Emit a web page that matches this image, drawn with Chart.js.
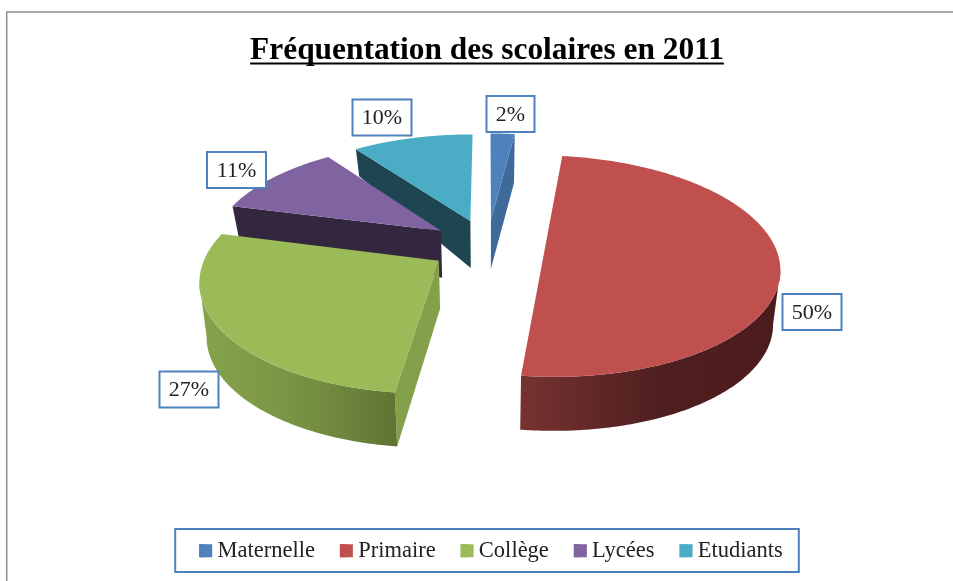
<!DOCTYPE html>
<html lang="fr">
<head>
<meta charset="utf-8">
<title>Fréquentation des scolaires en 2011</title>
<style>
html,body{margin:0;padding:0;background:#fff;overflow:hidden}
canvas{display:block}
</style>
<script src="https://cdn.jsdelivr.net/npm/chart.js@4"></script>
</head>
<body>
<canvas id="c" width="953" height="581"></canvas>
<script>
const categories = ['Maternelle', 'Primaire', 'Collège', 'Lycées', 'Etudiants'];
const shares = [2, 50, 27, 11, 10];
const topColors = ['#4f81bd', '#c0504d', '#9bbb59', '#8064a2', '#4bacc6'];
const titleText = 'Fréquentation des scolaires en 2011';
const serif = '"Liberation Serif", serif';

// Perspective of the pie's top plane, applied to the library's arc angles.
const view = {cx: 487.5, cy: 245.5, A: 230, B: 107, k: 0.155, shrink: 0.025};
const style = {
  order: [0, 4, 3, 2, 1],
  apexDepth: [49, 50, 48, 47, 47],
  rimDepth: [49, 54, 54, 32, 27],
  sideWall: ['#3e6a9a', '#7a2f2e', '#83a04b', '#33273f', '#1e4552'],
  rimStops: {
    1: [[520, '#763231'], [660, '#4f1f1f'], [780, '#4c1c1c']],
    2: [[200, '#85a24c'], [290, '#7a9544'], [345, '#6d853d'], [397, '#607333']]
  },
  labelCenter: [[510.5, 114], [812, 312], [189, 389.5], [236.5, 170], [382, 117.5]]
};

function project(u, v) {
  const w = 1 - view.k * v;
  return {x: view.cx + view.A * u / w, y: view.cy + view.B * v / w};
}
function lower(p, d) {
  return {x: view.cx + (p.x - view.cx) * (1 - view.shrink), y: p.y + d};
}
function poly(ctx, pts, fill) {
  ctx.beginPath();
  pts.forEach((p, i) => i ? ctx.lineTo(p.x, p.y) : ctx.moveTo(p.x, p.y));
  ctx.closePath();
  ctx.fillStyle = fill;
  ctx.fill();
}

const pie3d = {
  id: 'pie3d',
  afterLayout(chart) {
    // the title is centred on the pie, the legend 4px to the right of it
    chart.titleBlock.left -= 4;
    chart.titleBlock.right -= 4;
  },
  beforeDraw(chart) {
    const ctx = chart.ctx;
    ctx.save();
    ctx.strokeStyle = '#8c8c8c';
    ctx.lineWidth = 1.5;
    ctx.beginPath();
    ctx.moveTo(6.7, 600);
    ctx.lineTo(6.7, 12);
    ctx.lineTo(960, 12);
    ctx.stroke();
    ctx.restore();
  },
  beforeDatasetsDraw(chart) {
    const ctx = chart.ctx;
    const arcs = chart.getDatasetMeta(0).data;
    ctx.save();
    style.order.forEach(i => {
      const arc = arcs[i];
      const a0 = arc.startAngle + Math.PI / 2;
      const a1 = arc.endAngle + Math.PI / 2;
      const mid = (a0 + a1) / 2;
      const e = arc.options.offset / 100;
      const u0 = e * Math.sin(mid), v0 = -e * Math.cos(mid);
      const apex = project(u0, v0);
      const steps = Math.max(4, Math.ceil((a1 - a0) / 0.01));
      const rim = [];
      for (let s = 0; s <= steps; s++) {
        const t = a0 + (a1 - a0) * s / steps;
        rim.push(project(u0 + Math.sin(t), v0 - Math.cos(t)));
      }
      const dA = style.apexDepth[i], dR = style.rimDepth[i];
      const centre = project(u0 + 0.6 * Math.sin(mid), v0 - 0.6 * Math.cos(mid));

      // radial walls
      [rim[0], rim[rim.length - 1]].forEach(p => {
        const dx = p.x - apex.x;
        if (Math.abs(dx) < 4) return;
        const lineY = apex.y + (p.y - apex.y) / dx * (centre.x - apex.x);
        if (centre.y < lineY) {
          poly(ctx, [apex, p, lower(p, dR), lower(apex, dA)], style.sideWall[i]);
        }
      });

      // outer wall, only where the rim runs right to left (the front)
      const front = [];
      for (let s = 1; s < rim.length; s++) {
        if (rim[s].x < rim[s - 1].x) {
          if (!front.length) front.push(rim[s - 1]);
          front.push(rim[s]);
        }
      }
      if (front.length > 1) {
        const stops = style.rimStops[i] || [[0, style.sideWall[i]], [953, style.sideWall[i]]];
        const x0 = stops[0][0], x1 = stops[stops.length - 1][0];
        const g = ctx.createLinearGradient(x0, 0, x1, 0);
        stops.forEach(st => g.addColorStop((st[0] - x0) / (x1 - x0), st[1]));
        poly(ctx, front.concat(front.slice().reverse().map(p => lower(p, dR))), g);
      }

      // top face
      poly(ctx, [apex].concat(rim), arc.options.backgroundColor);
    });
    ctx.restore();
    return false;
  },
  afterDraw(chart) {
    const ctx = chart.ctx;
    ctx.save();

    // title underline
    const tb = chart.titleBlock;
    ctx.font = 'bold ' + tb.options.font.size + 'px ' + serif;
    const tw = ctx.measureText(titleText).width;
    const tc = (tb.left + tb.right) / 2;
    ctx.fillStyle = '#000';
    ctx.fillRect(tc - tw / 2, 62.5, tw, 2);

    // legend frame and full-width swatches
    const lg = chart.legend;
    const hb = lg.legendHitBoxes;
    ctx.strokeStyle = '#4f81bd';
    ctx.lineWidth = 2;
    const last = hb[hb.length - 1];
    ctx.strokeRect(hb[0].left - 24, 529, last.left + last.width - hb[0].left + 40, 43);
    hb.forEach((b, i) => {
      ctx.fillStyle = topColors[i];
      ctx.fillRect(b.left, b.top + b.height / 2 - 6.5, 13, 13);
    });

    // data labels
    ctx.font = '22px ' + serif;
    ctx.textAlign = 'center';
    ctx.textBaseline = 'middle';
    shares.forEach((v, i) => {
      const t = v + '%';
      const [x, y] = style.labelCenter[i];
      const w = Math.round(ctx.measureText(t).width) + 19;
      ctx.fillStyle = '#fff';
      ctx.fillRect(x - w / 2, y - 18, w, 36);
      ctx.strokeRect(x - w / 2, y - 18, w, 36);
      ctx.fillStyle = '#222';
      ctx.fillText(t, x, y + 1);
    });
    ctx.restore();
  }
};

new Chart(document.getElementById('c'), {
  type: 'pie',
  data: {
    labels: categories,
    datasets: [{
      data: shares,
      backgroundColor: topColors,
      borderWidth: 0,
      offset: 25
    }]
  },
  plugins: [pie3d],
  options: {
    responsive: false,
    animation: false,
    layout: {padding: {left: 29, right: 0, top: 18, bottom: 9}},
    plugins: {
      tooltip: {enabled: false},
      title: {
        display: true,
        text: titleText,
        color: '#000',
        font: {family: serif, size: 31.4, weight: 'bold'},
        padding: {top: 14, bottom: 10}
      },
      legend: {
        position: 'bottom',
        labels: {
          boxWidth: 7,
          boxHeight: 13,
          padding: 25,
          color: '#222',
          font: {family: serif, size: 22.5}
        }
      }
    }
  }
});
</script>
</body>
</html>
